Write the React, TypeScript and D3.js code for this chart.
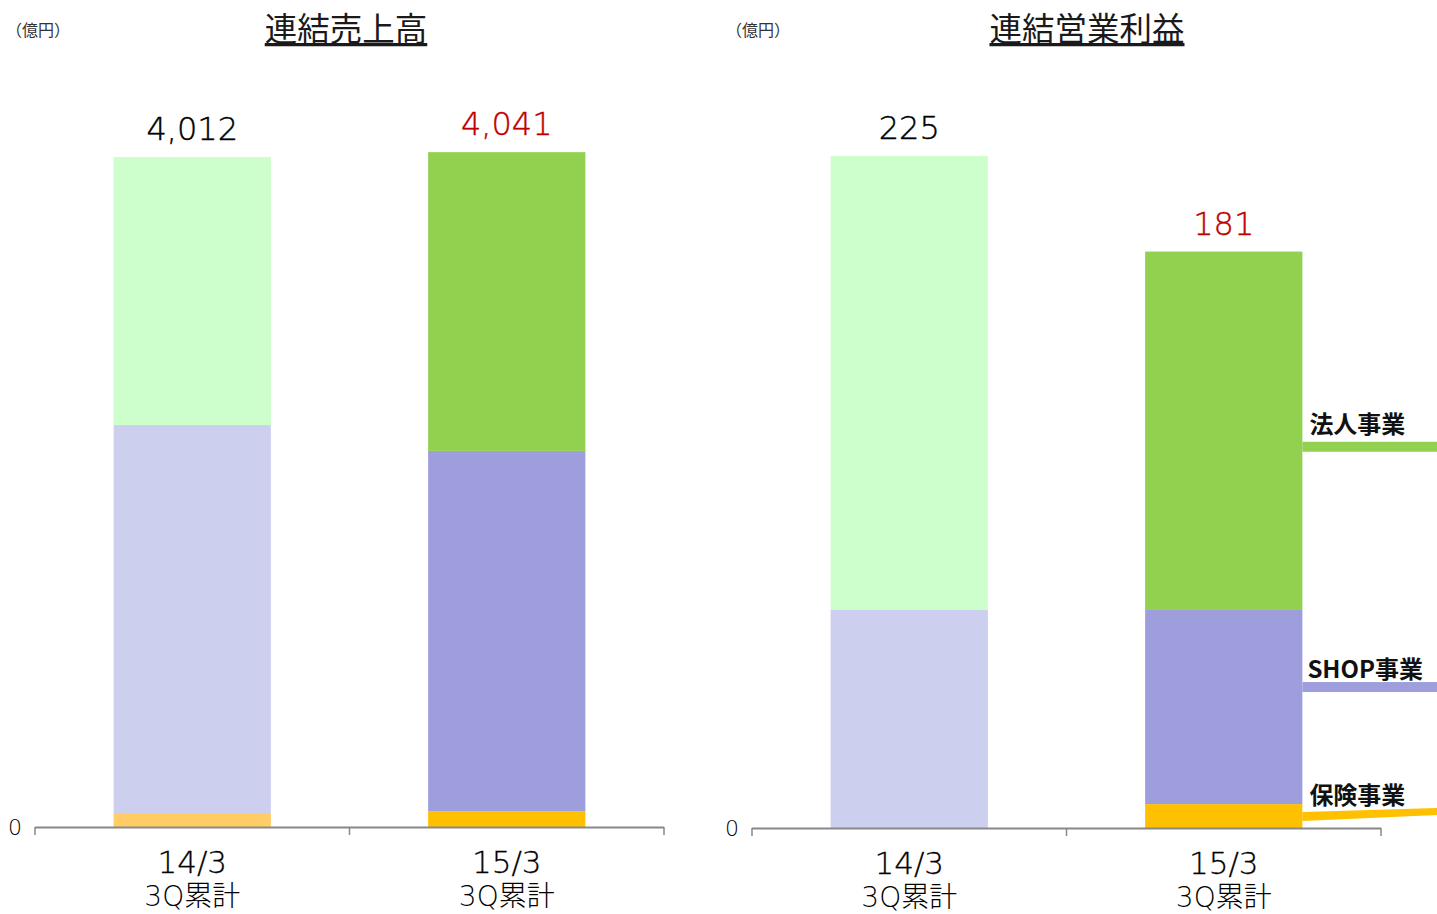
import React from "react";
import * as d3 from "d3";

// 期間
const periods = ["14/3", "15/3"];
const periodSub = "3Q累計";

// 連結売上高（億円）セグメント別
const salesHojin = [1605, 1789];
const salesShop = [2323, 2159];
const salesHoken = [84, 93];

// 連結営業利益（億円）セグメント別 + 調整額
const profitHojin = [152, 120];
const profitShop = [73, 65];
const profitHoken = [0, 8];
const profitAdjust = [0, -12];

const segmentNames = ["法人事業", "SHOP事業", "保険事業"];

// 色: [前期, 当期]
const colHojin = ["#CCFFCC", "#92D050"];
const colShop = ["#CDCFEE", "#9E9EDD"];
const colHoken = ["#FFCC66", "#FFC000"];
const labelColors = ["#000", "#C00000"];

const FONT = "'Noto Sans CJK JP', 'Noto Sans', sans-serif";
const NUMFONT = "'DejaVu Sans', 'Noto Sans CJK JP', sans-serif";

type PanelProps = {
  title: string;
  x0: number;
  x1: number;
  baseY: number;
  yMax: number;
  topY: number;
  hojin: number[];
  shop: number[];
  hoken: number[];
  adjust: number[];
  unitX: number;
  titleX: number;
  legend?: boolean;
};

function Panel(p: PanelProps) {
  const x = d3.scaleBand<string>().domain(periods).range([p.x0, p.x1]).paddingInner(0.5).paddingOuter(0.25);
  const y = d3.scaleLinear().domain([0, p.yMax]).range([p.baseY, p.topY]);
  const fmt = d3.format(",");

  const rows = periods.map((per, i) => ({
    per,
    i,
    hoken: p.hoken[i],
    shop: p.shop[i],
    hojin: p.hojin[i],
    total: p.hojin[i] + p.shop[i] + p.hoken[i] + p.adjust[i],
  }));
  const stack = d3.stack<any>().keys(["hoken", "shop", "hojin"])(rows);
  const colors: Record<string, string[]> = { hoken: colHoken, shop: colShop, hojin: colHojin };

  const bandEdges = [p.x0, p.x0 + (p.x1 - p.x0) / 2, p.x1];

  return (
    <g>
      <text x={p.unitX} y={36} fontSize={16} fontFamily={FONT} fill="#333">（億円）</text>
      <text
        x={p.titleX}
        y={41}
        fontSize={32.5}
        fontFamily={FONT}
        textAnchor="middle"
        fill="#1a1a1a"
        textDecoration="underline"
      >
        {p.title}
      </text>

      {stack.map((layer) =>
        layer.map((d, i) => (
          <rect
            key={layer.key + i}
            x={x(periods[i])}
            width={x.bandwidth()}
            y={y(d[1])}
            height={Math.max(0, y(d[0]) - y(d[1]))}
            fill={colors[layer.key][i]}
          />
        ))
      )}

      {rows.map((r, i) => {
        const top = stack[2][i][1];
        return (
          <text
            key={"lbl" + i}
            x={(x(r.per) as number) + x.bandwidth() / 2}
            y={y(top) - 17}
            textAnchor="middle"
            fontSize={32}
            fontWeight={300}
            fontFamily={NUMFONT}
            fill={labelColors[i]}
            stroke={labelColors[i]}
            strokeWidth={0.4}
          >
            {fmt(r.total)}
          </text>
        );
      })}

      {/* axis */}
      <line x1={p.x0} x2={p.x1} y1={p.baseY + 0.5} y2={p.baseY + 0.5} stroke="#888" strokeWidth={2} />
      {bandEdges.map((bx, k) => (
        <line key={"t" + k} x1={bx} x2={bx} y1={p.baseY} y2={p.baseY + 8} stroke="#888" strokeWidth={1.5} />
      ))}
      <text x={p.x0 - 13} y={p.baseY + 8} textAnchor="end" fontSize={22} fontWeight={300} fontFamily={NUMFONT} fill="#000">
        {y.ticks(1)[0]}
      </text>

      {periods.map((per) => (
        <g key={per}>
          <text
            x={(x(per) as number) + x.bandwidth() / 2}
            y={p.baseY + 46}
            textAnchor="middle"
            fontSize={31}
            fontWeight={300}
            fontFamily={NUMFONT}
            fill="#000"
            stroke="#000"
            strokeWidth={0.3}
          >
            {per}
          </text>
          <text
            x={(x(per) as number) + x.bandwidth() / 2}
            y={p.baseY + 79}
            textAnchor="middle"
            fontSize={28}
            fontWeight={300}
            fontFamily={NUMFONT}
            fill="#000"
          >
            {periodSub}
          </text>
        </g>
      ))}

      {p.legend && (() => {
        const i = 1;
        const bx = (x(periods[i]) as number) + x.bandwidth();
        const mid = (layer: number) => (y(stack[layer][i][0]) + y(stack[layer][i][1])) / 2;
        const gY = mid(2) + 16;
        const sY = mid(1) - 20;
        const oY = mid(0);
        return (
          <g fontFamily={FONT} fontWeight={700} fontSize={24} fill="#111">
            <rect x={bx} y={gY - 5} width={1437 - bx} height={10} fill={colHojin[1]} />
            <text x={bx + 7} y={gY - 14}>{segmentNames[0]}</text>
            <rect x={bx} y={sY - 5} width={1437 - bx} height={10} fill={colShop[1]} />
            <text x={bx + 5} y={sY - 9}>{segmentNames[1]}</text>
            <path
              d={`M${bx},${oY - 4} L1437,${oY - 8} L1437,${oY - 1} L${bx},${oY + 5} Z`}
              fill={colHoken[1]}
            />
            <text x={bx + 7} y={oY - 12}>{segmentNames[2]}</text>
          </g>
        );
      })()}
    </g>
  );
}

export default function App() {
  return (
    <svg
      width={1437}
      height={914}
      style={{ position: "absolute", left: 0, top: 0, background: "#fff" }}
    >
      <rect width={1437} height={914} fill="#fff" />
      <Panel
        title="連結売上高"
        x0={35}
        x1={664}
        baseY={827}
        yMax={4500}
        topY={75.5}
        hojin={salesHojin}
        shop={salesShop}
        hoken={salesHoken}
        adjust={[0, 0]}
        unitX={6}
        titleX={346}
      />
      <Panel
        title="連結営業利益"
        x0={752}
        x1={1381}
        baseY={828}
        yMax={250}
        topY={81.3}
        hojin={profitHojin}
        shop={profitShop}
        hoken={profitHoken}
        adjust={profitAdjust}
        unitX={726}
        titleX={1087}
        legend
      />
    </svg>
  );
}
